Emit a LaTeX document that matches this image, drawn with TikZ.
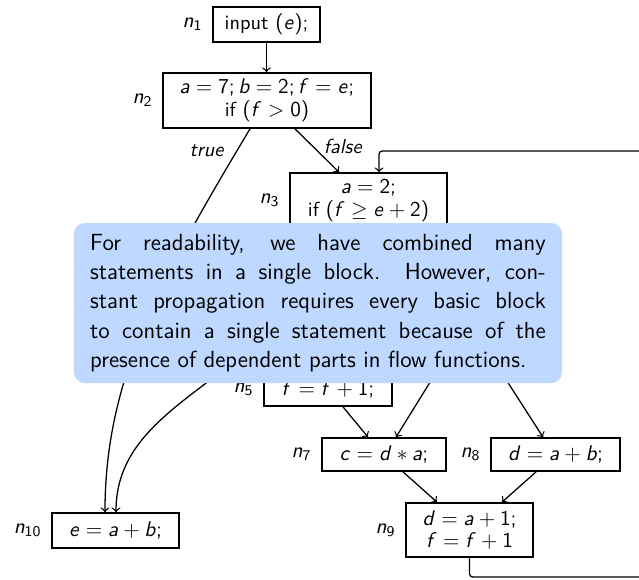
\documentclass[tikz,border=0pt]{standalone}
\usetikzlibrary{calc}

% sans-serif math letters and digits, as on a slide
\DeclareSymbolFont{sfletters}{OT1}{cmss}{m}{sl}
\DeclareSymbolFont{sfupright}{OT1}{cmss}{m}{n}
\DeclareMathSymbol{a}{\mathalpha}{sfletters}{`a}
\DeclareMathSymbol{b}{\mathalpha}{sfletters}{`b}
\DeclareMathSymbol{c}{\mathalpha}{sfletters}{`c}
\DeclareMathSymbol{d}{\mathalpha}{sfletters}{`d}
\DeclareMathSymbol{e}{\mathalpha}{sfletters}{`e}
\DeclareMathSymbol{f}{\mathalpha}{sfletters}{`f}
\DeclareMathSymbol{n}{\mathalpha}{sfletters}{`n}
\DeclareMathSymbol{0}{\mathalpha}{sfupright}{`0}
\DeclareMathSymbol{1}{\mathalpha}{sfupright}{`1}
\DeclareMathSymbol{2}{\mathalpha}{sfupright}{`2}
\DeclareMathSymbol{3}{\mathalpha}{sfupright}{`3}
\DeclareMathSymbol{5}{\mathalpha}{sfupright}{`5}
\DeclareMathSymbol{7}{\mathalpha}{sfupright}{`7}
\DeclareMathSymbol{8}{\mathalpha}{sfupright}{`8}
\DeclareMathSymbol{9}{\mathalpha}{sfupright}{`9}
\DeclareMathSymbol{=}{\mathrel}{sfupright}{`=}
\DeclareMathSymbol{+}{\mathbin}{sfupright}{`+}
\DeclareMathSymbol{;}{\mathpunct}{sfupright}{`;}
\DeclareMathSymbol{(}{\mathopen}{sfupright}{`(}
\DeclareMathSymbol{)}{\mathclose}{sfupright}{`)}

\newcommand{\blkfont}{\sffamily\fontsize{9.6}{10.6}\selectfont}
\newcommand{\notefont}{\sffamily\fontsize{11}{13.8}\selectfont}
\definecolor{notebg}{RGB}{191,216,255}

\begin{document}
\begin{tikzpicture}[x=0.47185pt,y=-0.47185pt,
  blk/.style={draw, line width=0.8pt, font=\blkfont, align=center, inner sep=0pt},
  flow/.style={->, line width=0.6pt},
  tag/.style={font=\blkfont\slshape, inner sep=1pt},
  every label/.style={font=\blkfont},
  label distance=1pt]
\useasboundingbox (0,0) rectangle (639,579);
\clip (0,0) rectangle (639,579);

% basic blocks
\node[blk, minimum width=50.5pt, minimum height=16.5pt, label=left:$n_1$] (n1) at (266.5,24.5) {input $(e)$;};
\node[blk, minimum width=98.1pt, minimum height=26pt, label=left:$n_2$] (n2) at (267,100.5) {$a=7; b=2; f=e;$\\ if $(f>0)$};
\node[blk, minimum width=74.1pt, minimum height=26pt, label=left:$n_3$] (n3) at (368.5,200.5) {$a=2;$\\ if $(f\geq e+2)$};
\node[blk, minimum width=60.4pt, minimum height=15.6pt, label=left:$n_5$] (n5) at (328,389.5) {$f=f+1;$};
\node[blk, minimum width=58.5pt, minimum height=15.6pt, label=left:$n_7$] (n7) at (384,454.5) {$c=d\ast a;$};
\node[blk, minimum width=60.9pt, minimum height=15.6pt, label=left:$n_8$] (n8) at (555.5,454.5) {$d=a+b;$};
\node[blk, minimum width=59.9pt, minimum height=25.5pt, label=left:$n_9$] (n9) at (469.5,530) {$d=a+1;$\\ $f=f+1$};
\node[blk, minimum width=59.9pt, minimum height=16.5pt, label=left:$n_{10}$] (n10) at (115.5,530.5) {$e=a+b;$};

% loose ends of the flow edges
\coordinate (c4) at (240,357);
\coordinate (n6a) at (450,350);
\coordinate (n6b) at (487,350);
\coordinate (loopR) at (660,577);
\coordinate (loopT) at (379,151);

% flow edges
\draw[flow] (n1.south) -- (n1.south |- n2.north);
\draw[flow] ($(n2.south)+(28,0)$) -- node[tag, pos=0.4, right=4pt] {false} ($(n3.north)+(-29.5,0)$);
\draw[flow] ($(n2.south)+(-17,0)$) .. controls +(-90,150) and +(0,-133) .. ($(n10.north)+(-10.5,0)$)
  node[tag, pos=0.05, left=5pt] {true};
\draw[flow] (c4) .. controls +(-62.5,50) and +(0,-73) .. ($(n10.north)+(0.5,0)$);
\draw[flow] ($(n5.south)+(15,0)$) -- ($(n7.north)+(-16,0)$);
\draw[flow] (n6a) -- ($(n7.north)+(12,0)$);
\draw[flow] (n6b) -- ($(n8.north)+(-12.5,0)$);
\draw[flow] ($(n7.south)+(19,0)$) -- ($(n9.north)+(-32.5,0)$);
\draw[flow] ($(n8.south)+(-19.5,0)$) -- ($(n9.north)+(32.5,0)$);
\draw[flow, rounded corners=1.5pt] (n9.south) |- (loopR) |- (loopT) -- (loopT |- n3.north);

% remark laid over the graph
\node[fill=notebg, rounded corners=5pt, minimum width=230.3pt, minimum height=75.5pt,
  text width=215pt, align=justify, inner xsep=7.6pt, font=\notefont] (note) at (318,303)
  {\parfillskip=0pt For readability, we have combined many\linebreak
   statements in a single block. However, con-\linebreak
   stant propagation requires every basic block\linebreak
   to contain a single statement because of the\linebreak
   presence of dependent parts in flow functions.};
\end{tikzpicture}
\end{document}
